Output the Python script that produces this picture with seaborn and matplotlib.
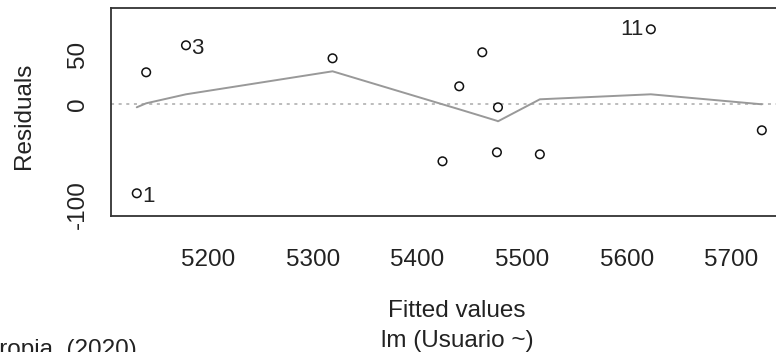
import numpy as np
import pandas as pd
import matplotlib
matplotlib.use("Agg")
import matplotlib.pyplot as plt
import seaborn as sns

# =========================
# DATA
# =========================

obs_id = [1, 2, 3, 4, 5, 6, 7, 8, 9, 10, 11, 12]

fitted = [5132, 5141, 5179, 5319, 5424, 5440,
          5462, 5476, 5477, 5517, 5623, 5729]

residuals = [-89, 32, 59, 46, -57, 18,
             52, -48, -3, -50, 75, -26]

# lowess smooth evaluated at the fitted values
smooth = [-3, 1, 10, 33, 0, -5,
          -12, -16.5, -17, 5, 10, 0]

labelled = [1, 3, 11]

x_ticks = [5200, 5300, 5400, 5500, 5600, 5700]
y_ticks = [-100, -50, 0, 50]
y_tick_labels = ["-100", "", "0", "50"]

df = pd.DataFrame({
    "id": obs_id,
    "fitted": fitted,
    "residuals": residuals,
    "smooth": smooth
})

# =========================
# STYLE
# =========================

sns.set_style("white")
plt.rcParams["font.family"] = ["Liberation Sans", "DejaVu Sans"]

TEXT = "#222222"
FS = 17.5

# =========================
# FIGURE
# =========================

fig = plt.figure(figsize=(7.76, 3.52), dpi=100)

W, H = 776, 352
left, right, top, bottom = 111, 788, 8, 216
ax = fig.add_axes([left / W, 1 - bottom / H,
                   (right - left) / W, (bottom - top) / H])

ax.axhline(0, color="#aaaaaa", linestyle=(0, (2, 3)), linewidth=1.1, zorder=1)

sns.lineplot(
    data=df,
    x="fitted",
    y="smooth",
    color="#999999",
    linewidth=1.4,
    ax=ax,
    zorder=2
)

sns.scatterplot(
    data=df,
    x="fitted",
    y="residuals",
    marker="o",
    s=38,
    facecolor="none",
    edgecolor="#111111",
    linewidth=1.1,
    ax=ax,
    zorder=3
)

for _, row in df[df["id"].isin(labelled)].iterrows():
    if row["fitted"] < 5400:
        offset, ha = (4, -2), "left"
    else:
        offset, ha = (-5, 0), "right"
    ax.annotate(
        str(int(row["id"])),
        (row["fitted"], row["residuals"]),
        xytext=offset,
        textcoords="offset points",
        ha=ha,
        va="center",
        fontsize=16,
        color=TEXT
    )

# =========================
# AXES
# =========================

ax.set_xlim(5107.4, 5754)
ax.set_ylim(-111.7, 96.3)

ax.set_xticks(x_ticks)
ax.set_yticks(y_ticks)
ax.set_yticklabels(y_tick_labels, rotation=90, va="center")

ax.tick_params(axis="both", direction="out", length=10, width=1.1,
               colors="#333333", labelcolor=TEXT, labelsize=FS)
ax.tick_params(axis="x", pad=14)
ax.tick_params(axis="y", pad=6)

for side in ["left", "top", "bottom", "right"]:
    ax.spines[side].set_color("#333333")
    ax.spines[side].set_linewidth(1.3)

ax.set_ylabel("Residuals", fontsize=FS, color=TEXT)
ax.yaxis.set_label_coords(-0.112, 0.48)

ax.set_xlabel("Fitted values\nlm (Usuario ~)", fontsize=FS,
              color=TEXT, linespacing=1.45)
ax.xaxis.set_label_coords(0.511, -0.405)

fig.text(137 / W, 1 - 339 / H, "ón propia. (2020)", ha="right",
         va="top", fontsize=FS, color=TEXT)

fig.savefig("out.png", dpi=100)
